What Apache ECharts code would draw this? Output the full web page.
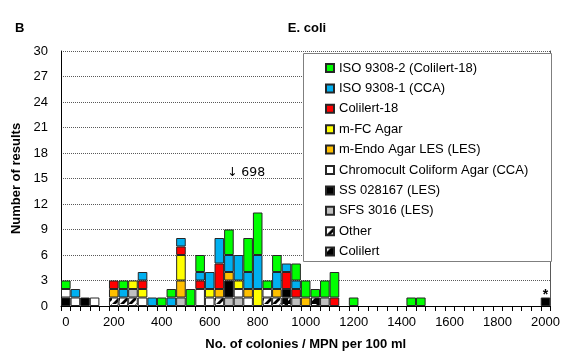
<!DOCTYPE html>
<html>
<head>
<meta charset="utf-8">
<script src="https://cdn.jsdelivr.net/npm/echarts@6/dist/echarts.min.js"></script>
<style>
  html, body { margin: 0; padding: 0; background: #fff; }
  #chart { width: 563px; height: 356px; }
</style>
</head>
<body>
<div id="chart"></div>
<script>
// Bin starts (40 per 100 ml wide bins), 0 .. 2000
const binStarts = [];
for (let v = 0; v <= 2000; v += 40) binStarts.push(String(v));

// Counts per bin for each method (stacked bottom to top in this order)
const colilert    = [0,0,0,0,0,0,0,0,0,0, 0,0,0,0,0,0,0,0,0,0, 0,0,0,1,0,0,1,0,0,0, 0,0,0,0,0,0,0,0,0,0, 0,0,0,0,0,0,0,0,0,0, 0];
const other       = [0,0,0,0,0,1,1,1,0,0, 0,0,0,0,0,0,1,0,0,0, 0,1,1,0,0,0,0,0,0,0, 0,0,0,0,0,0,0,0,0,0, 0,0,0,0,0,0,0,0,0,0, 0];
const sfs3016     = [0,0,0,0,0,0,0,1,0,0, 0,0,1,0,0,0,0,1,1,0, 0,0,0,0,1,0,0,1,0,0, 0,0,0,0,0,0,0,0,0,0, 0,0,0,0,0,0,0,0,0,0, 0];
const ss028167    = [1,0,1,0,0,0,0,0,0,0, 0,0,0,0,0,0,0,2,0,0, 0,0,0,1,0,0,0,0,0,0, 0,0,0,0,0,0,0,0,0,0, 0,0,0,0,0,0,0,0,0,0, 1];
const chromocult  = [1,1,0,1,0,0,0,0,1,0, 0,0,0,0,2,1,0,0,1,1, 0,1,0,0,0,0,0,0,0,0, 0,0,0,0,0,0,0,0,0,0, 0,0,0,0,0,0,0,0,0,0, 0];
const mEndo       = [0,0,0,0,0,1,0,0,0,0, 0,0,2,0,0,0,1,1,0,1, 0,0,1,0,0,1,0,0,0,0, 0,0,0,0,0,0,0,0,0,0, 0,0,0,0,0,0,0,0,0,0, 0];
const mFC         = [0,0,0,0,0,0,0,1,1,0, 0,0,3,0,0,1,0,0,1,0, 2,0,0,0,0,0,0,0,0,0, 0,0,0,0,0,0,0,0,0,0, 0,0,0,0,0,0,0,0,0,0, 0];
const colilert18  = [0,0,0,0,0,1,0,0,1,0, 0,0,1,0,1,0,3,0,0,0, 0,0,0,2,1,0,0,0,1,0, 0,0,0,0,0,0,0,0,0,0, 0,0,0,0,0,0,0,0,0,0, 0];
const iso9308_1   = [0,1,0,0,0,0,1,0,1,1, 0,1,1,0,1,2,3,2,3,2, 4,0,2,1,1,0,0,0,0,0, 0,0,0,0,0,0,0,0,0,0, 0,0,0,0,0,0,0,0,0,0, 0];
const iso9308_2   = [1,0,0,0,0,0,1,0,0,0, 1,1,0,2,2,0,0,3,0,4, 5,1,2,0,2,2,1,2,3,0, 1,0,0,0,0,0,1,1,0,0, 0,0,0,0,0,0,0,0,0,0, 0];

const yTicks = { min: 0, max: 30, step: 3 };
const outlierNote = { bin: '680', level: 15.7, text: '\u2193 698' };

const FONT = 'Liberation Sans, Arial, sans-serif';

// Small tile patterns for the two hatched methods
function makePattern(kind) {
  const c = document.createElement('canvas');
  c.width = 8; c.height = 8;
  const g = c.getContext('2d');
  if (kind === 'colilert') {
    // mostly black, white corner wedge
    g.fillStyle = '#000';
    g.fillRect(0, 0, 8, 8);
    g.fillStyle = '#fff';
    g.beginPath();
    g.moveTo(0, 0); g.lineTo(5, 0); g.lineTo(0, 5); g.closePath();
    g.fill();
  } else {
    // white with a broad rising diagonal band
    g.fillStyle = '#fff';
    g.fillRect(0, 0, 8, 8);
    g.fillStyle = '#000';
    g.beginPath();
    g.moveTo(0, 8); g.lineTo(8, 0); g.lineTo(8, 4); g.lineTo(4, 8); g.closePath();
    g.fill();
  }
  return c;
}

const methods = [
  { name: 'Colilert', data: colilert, color: { image: makePattern('colilert'), repeat: 'repeat' } },
  { name: 'Other', data: other, color: { image: makePattern('other'), repeat: 'repeat' } },
  { name: 'SFS 3016 (LES)', data: sfs3016, color: '#C0C0C0' },
  { name: 'SS 028167 (LES)', data: ss028167, color: '#000000' },
  { name: 'Chromocult Coliform Agar (CCA)', data: chromocult, color: '#FFFFFF' },
  { name: 'm-Endo Agar LES (LES)', data: mEndo, color: '#FFC000' },
  { name: 'm-FC Agar', data: mFC, color: '#FFFF00' },
  { name: 'Colilert-18', data: colilert18, color: '#FF0000' },
  { name: 'ISO 9308-1 (CCA)', data: iso9308_1, color: '#00B0F0' },
  { name: 'ISO 9308-2 (Colilert-18)', data: iso9308_2, color: '#00FF00' }
];

const series = methods.map(function (m, k) {
  const s = {
    name: m.name,
    type: 'bar',
    stack: 'results',
    barCategoryGap: '0%',
    itemStyle: { color: m.color, borderColor: '#262626', borderWidth: 1 },
    emphasis: { disabled: true },
    data: m.data.map(function (v, i) {
      if (!v) return '-';
      if (m.name === 'SS 028167 (LES)' && i === 50) {
        return { value: v, label: { show: true, position: 'top', distance: 0, offset: [0, 5], formatter: '*', fontSize: 14, fontWeight: 'bold', color: '#000', fontFamily: FONT } };
      }
      return v;
    })
  };
  if (k === methods.length - 1) {
    s.markPoint = {
      symbol: 'circle', symbolSize: 0,
      label: { show: true, position: 'right', distance: 0, offset: [-2, 0], formatter: outlierNote.text, color: '#000', fontSize: 12.5, fontFamily: 'DejaVu Sans, sans-serif' },
      data: [{ coord: [outlierNote.bin, outlierNote.level] }]
    };
  }
  return s;
});

const legendOrder = methods.map(function (m) { return m.name; }).reverse();

const chart = echarts.init(document.getElementById('chart'), null, { renderer: 'canvas' });
chart.setOption({
  animation: false,
  backgroundColor: '#fff',
  textStyle: { fontFamily: FONT },
  title: [
    { text: 'B', left: 10, top: 17, textStyle: { fontSize: 13, fontWeight: 'bold', color: '#000', fontFamily: FONT } },
    { text: 'E. coli', left: 302, top: 17, textAlign: 'center', textStyle: { fontSize: 13, fontWeight: 'bold', color: '#000', fontFamily: FONT } }
  ],
  grid: { left: 61, right: 11, top: 51, bottom: 46, containLabel: false },
  graphic: [
    { type: 'rect', left: 303, top: 53, shape: { width: 248, height: 208 }, style: { fill: '#fff', stroke: '#7f7f7f', lineWidth: 1 }, z: 5 }
  ],
  legend: {
    orient: 'vertical', left: 320, top: 56, z: 10,
    itemWidth: 8, itemHeight: 8, itemGap: 6.4,
    icon: 'rect',
    selectedMode: false,
    data: legendOrder,
    textStyle: { fontSize: 13, lineHeight: 14, color: '#000', fontFamily: FONT }
  },
  xAxis: {
    type: 'category',
    data: binStarts,
    name: 'No. of colonies / MPN per 100 ml',
    nameLocation: 'middle', nameGap: 32,
    nameTextStyle: { fontSize: 13, fontWeight: 'bold', color: '#000', fontFamily: FONT },
    axisLine: { lineStyle: { color: '#000', width: 1 } },
    axisTick: { show: true, interval: 0, length: 5, lineStyle: { color: '#000' } },
    axisLabel: { interval: 4, margin: 10, fontSize: 13, color: '#000', fontFamily: FONT },
    splitLine: { show: false }
  },
  yAxis: [
    {
      type: 'value', min: yTicks.min, max: yTicks.max, interval: yTicks.step,
      name: 'Number of results', nameLocation: 'middle', nameGap: 38,
      nameTextStyle: { fontSize: 13, fontWeight: 'bold', color: '#000', fontFamily: FONT },
      axisLine: { show: true, lineStyle: { color: '#000', width: 1 } },
      axisTick: { show: false },
      axisLabel: { margin: 13, fontSize: 13, color: '#000', fontFamily: FONT },
      splitLine: { show: true, lineStyle: { color: '#595959', type: [1, 1], width: 1 } }
    },
    {
      type: 'value', min: yTicks.min, max: yTicks.max, position: 'right',
      axisLine: { show: true, lineStyle: { color: '#595959', width: 1 } },
      axisTick: { show: false }, axisLabel: { show: false }, splitLine: { show: false }
    }
  ],
  series: series
});
</script>
</body>
</html>
